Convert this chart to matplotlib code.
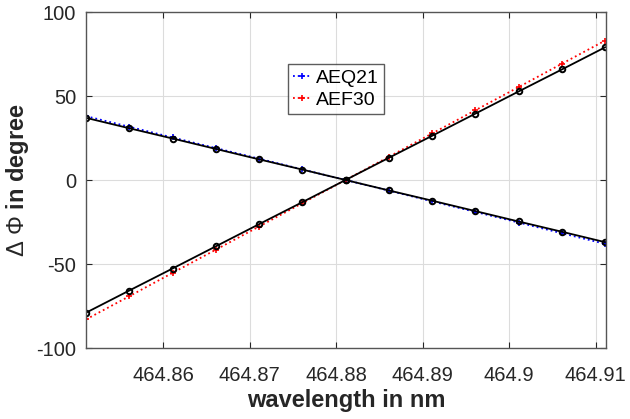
import numpy as np
import matplotlib
matplotlib.use("Agg")
import matplotlib.pyplot as plt

plt.rcParams['font.family'] = ['Liberation Sans', 'DejaVu Sans']
plt.rcParams['axes.unicode_minus'] = False
plt.rcParams['mathtext.fontset'] = 'custom'
plt.rcParams['mathtext.rm'] = 'Liberation Sans'
plt.rcParams['mathtext.it'] = 'Liberation Sans'

# wavelength samples (nm)
wavelength = [464.8511, 464.8561, 464.8611, 464.8661, 464.8711, 464.8761, 464.8811,
              464.8861, 464.8911, 464.8961, 464.9011, 464.9061, 464.9111]

# phase difference in degree
aeq21 = [38, 31.7, 25.3, 19.0, 12.7, 6.3, 0, -6.3, -12.7, -19.0, -25.3, -31.7, -38]
aeq21_fit = [37, 30.8, 24.7, 18.5, 12.3, 6.2, 0, -6.2, -12.3, -18.5, -24.7, -30.8, -37]
aef30 = [-83, -69.2, -55.3, -41.5, -27.7, -13.8, 0, 13.8, 27.7, 41.5, 55.3, 69.2, 83]
aef30_fit = [-79, -65.8, -52.7, -39.5, -26.3, -13.2, 0, 13.2, 26.3, 39.5, 52.7, 65.8, 79]

xticks = [464.86, 464.87, 464.88, 464.89, 464.90, 464.91]
xticklabels = ['464.86', '464.87', '464.88', '464.89', '464.9', '464.91']
yticks = [-100, -50, 0, 50, 100]

fig = plt.figure(figsize=(6.3, 4.19), dpi=100)
ax = fig.add_axes([86 / 630, 1 - 348 / 419, 520 / 630, 336 / 419])

ax.plot(wavelength, aeq21, ':', color='#0000ff', marker='+', ms=5, mew=1.2, lw=1.3, label='AEQ21')
ax.plot(wavelength, aef30, ':', color='#ff0000', marker='+', ms=5, mew=1.2, lw=1.3, label='AEF30')
ax.plot(wavelength, aeq21_fit, '-', color='black', marker='o', ms=4, mfc='none', mew=1.4, lw=1.3)
ax.plot(wavelength, aef30_fit, '-', color='black', marker='o', ms=4, mfc='none', mew=1.4, lw=1.3)

ax.set_xlim(464.8511, 464.9112)
ax.set_ylim(-100, 100)
ax.set_xticks(xticks)
ax.set_xticklabels(xticklabels)
ax.set_yticks(yticks)
ax.grid(True, color='#dcdcdc', lw=0.8)
ax.set_axisbelow(True)
ax.tick_params(direction='in', top=True, right=True, labelsize=14.5, colors='#262626',
               length=4)
ax.tick_params(axis='x', pad=13)
ax.tick_params(axis='y', pad=7)
for s in ax.spines.values():
    s.set_color('#555555')
    s.set_linewidth(1.0)

ax.set_xlabel('wavelength in nm', fontsize=17, fontweight='bold', color='#262626', labelpad=3)
ax.set_ylabel(r'$\Delta\ \Phi$ in degree', fontsize=17, fontweight='bold', color='#262626',
              labelpad=4)

leg = ax.legend(loc='upper left', bbox_to_anchor=(0.388, 0.845), fontsize=14, frameon=True,
                fancybox=False, edgecolor='#333333', handlelength=1.0, handletextpad=0.2,
                borderpad=0.25, labelspacing=0.25, borderaxespad=0)
leg.get_frame().set_linewidth(1.0)

fig.savefig('out.png', dpi=100)
